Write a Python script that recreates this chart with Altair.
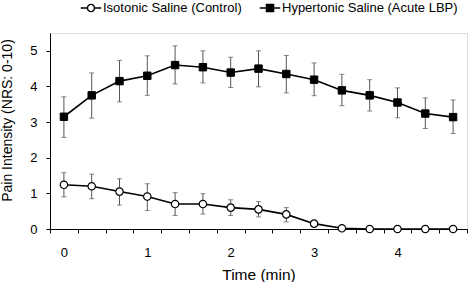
import altair as alt
import pandas as pd

# ---- data ----
tick_labels = ["0", "", "", "1", "", "", "2", "", "", "3", "", "", "4", "", ""]
idx = list(range(15))

series_names = ["Isotonic Saline (Control)", "Hypertonic Saline (Acute LBP)"]

iso_mean = [1.24, 1.20, 1.05, 0.91, 0.70, 0.70, 0.60, 0.55, 0.41, 0.15, 0.02, 0.0, 0.0, 0.0, 0.0]
iso_hi = [1.58, 1.54, 1.41, 1.27, 1.02, 0.99, 0.82, 0.77, 0.60, 0.15, 0.02, 0.0, 0.0, 0.0, 0.0]
iso_lo = [0.90, 0.85, 0.67, 0.52, 0.38, 0.42, 0.38, 0.34, 0.20, 0.15, 0.02, 0.0, 0.0, 0.0, 0.0]

hyp_mean = [3.15, 3.75, 4.15, 4.30, 4.60, 4.54, 4.39, 4.50, 4.35, 4.19, 3.89, 3.75, 3.55, 3.24, 3.14]
hyp_hi = [3.71, 4.38, 4.73, 4.86, 5.14, 5.00, 4.82, 5.00, 4.87, 4.66, 4.34, 4.19, 3.96, 3.68, 3.62]
hyp_lo = [2.57, 3.11, 3.57, 3.75, 4.07, 4.10, 3.97, 3.99, 3.82, 3.74, 3.46, 3.31, 3.12, 2.82, 2.68]

rows = []
for name, m, hi, lo in [(series_names[0], iso_mean, iso_hi, iso_lo),
                        (series_names[1], hyp_mean, hyp_hi, hyp_lo)]:
    for i, a, b, c in zip(idx, m, hi, lo):
        rows.append({"idx": i, "series": name, "mean": a, "hi": b, "lo": c})
df = pd.DataFrame(rows)

FONT = "Liberation Sans"
label_arr = "[" + ",".join("'%s'" % t for t in tick_labels) + "]"

x_axis = alt.Axis(
    title="Time (min)",
    tickBand="extent",
    labelExpr=label_arr + "[datum.value]",
    labelAngle=0,
    labelFontSize=13,
    labelPadding=13,
    tickSize=4,
    tickColor="black",
    domainColor="black",
    titleFontSize=15.5,
    titleFontWeight="normal",
    titlePadding=8,
    grid=False,
)
x_scale = alt.Scale(type="band", paddingInner=0, paddingOuter=0)

y_scale = alt.Scale(domain=[0, 5.5], nice=False)
y_axis = alt.Axis(
    title="Pain Intensity (NRS: 0-10)",
    values=[0, 1, 2, 3, 4, 5],
    labelFontSize=13,
    labelPadding=9,
    tickSize=4,
    tickColor="black",
    domainColor="black",
    titleFontSize=14,
    titleFontWeight="normal",
    titleX=-36,
    titleY=87,
    grid=False,
)


def X():
    return alt.X("idx:O", scale=x_scale, axis=x_axis, title="Time (min)")


def Y(field):
    return alt.Y(field, scale=y_scale, axis=y_axis, title="Pain Intensity (NRS: 0-10)")


base = alt.Chart(df)
err_base = alt.Chart(df[df["hi"] > df["lo"]])

rules = err_base.mark_rule(color="#555555", strokeWidth=1).encode(
    x=X(), y=Y("lo:Q"), y2="hi:Q"
)
caps_hi = err_base.mark_tick(color="#555555", size=5, thickness=1).encode(x=X(), y=Y("hi:Q"))
caps_lo = err_base.mark_tick(color="#555555", size=5, thickness=1).encode(x=X(), y=Y("lo:Q"))

lines = base.mark_line(color="black", strokeWidth=1.6).encode(
    x=X(), y=Y("mean:Q"), detail="series:N"
)

pts_iso = base.transform_filter(alt.datum.series == series_names[0]).mark_point(
    shape="circle", size=55, fill="white", stroke="black", strokeWidth=1.2, filled=False, opacity=1
).encode(x=X(), y=Y("mean:Q"))

pts_hyp = base.transform_filter(alt.datum.series == series_names[1]).mark_point(
    shape="square", size=55, fill="black", stroke="black", strokeWidth=1, filled=True, opacity=1
).encode(x=X(), y=Y("mean:Q"))

circ_path = "M-1,0L-0.35,0M0.35,0L1,0M-0.35,0A0.35,0.35,0,1,1,0.35,0A0.35,0.35,0,1,1,-0.35,0Z"
sq_path = "M-1,0L-0.35,0M0.35,0L1,0M-0.35,-0.35L0.35,-0.35L0.35,0.35L-0.35,0.35Z"

legend = alt.Legend(
    title=None,
    orient="none",
    direction="horizontal",
    legendX=30,
    legendY=-36,
    labelFontSize=13,
    labelOffset=1,
    labelLimit=0,
    columnPadding=14,
    symbolSize=420,
    symbolOpacity=1,
    symbolStrokeWidth=1.4,
)

legend_layer = base.transform_filter("false").mark_point(size=420, strokeWidth=1.4).encode(
    x=X(),
    y=Y("mean:Q"),
    shape=alt.Shape("series:N", scale=alt.Scale(domain=series_names, range=[circ_path, sq_path]), legend=legend),
    fill=alt.Fill("series:N", scale=alt.Scale(domain=series_names, range=["white", "black"]), legend=legend),
    stroke=alt.Stroke("series:N", scale=alt.Scale(domain=series_names, range=["black", "black"]), legend=legend),
)

chart = alt.layer(rules, caps_hi, caps_lo, lines, pts_iso, pts_hyp, legend_layer).properties(
    width=417,
    height=196,
    autosize=alt.AutoSizeParams(type="none"),
    padding={"left": 50, "top": 33, "right": 3, "bottom": 53},
).configure_view(stroke=None).configure(
    font=FONT, background="white"
).configure_axis(labelColor="black", titleColor="black", labelFont=FONT, titleFont=FONT).configure_legend(
    labelFont=FONT, labelColor="black"
)

chart.save("out.html", embed_options={"renderer": "svg", "actions": False})
